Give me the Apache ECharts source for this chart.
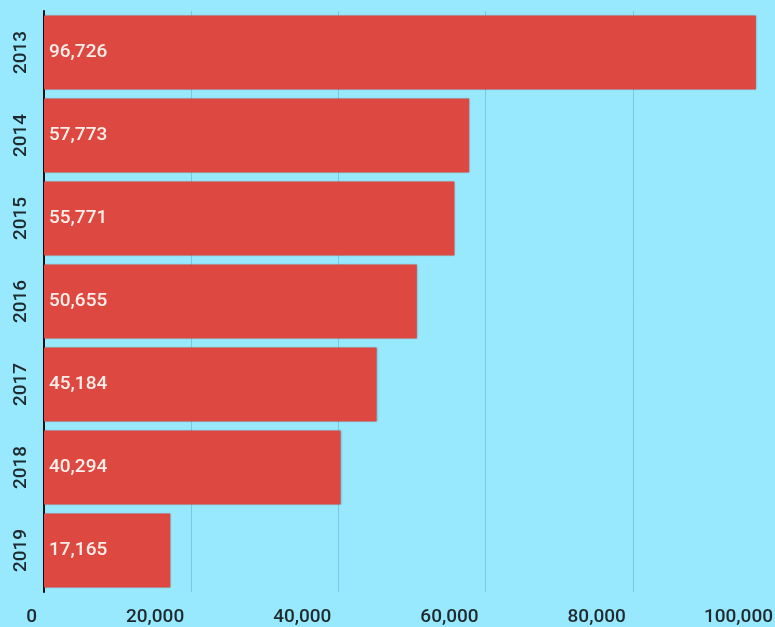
<!DOCTYPE html>
<html><head><meta charset="utf-8">
<script src="https://cdn.jsdelivr.net/npm/echarts@6/dist/echarts.min.js"></script>
<style>html,body{margin:0;padding:0;background:#98e8fe;}#c{width:775px;height:627px;}</style>
</head><body><div id="c"></div>
<script>
const categories = ['2013','2014','2015','2016','2017','2018','2019'];
const values = [96726, 57773, 55771, 50655, 45184, 40294, 17165];
const xTicks = [0, 20000, 40000, 60000, 80000, 100000];

const chart = echarts.init(document.getElementById('c'), null, {renderer:'canvas'});
chart.setOption({
  backgroundColor: '#98e8fe',
  animation: false,
  textStyle: {fontFamily: 'Roboto'},
  grid: {left: 44, width: 736, top: 11, bottom: 35, containLabel: false, outerBoundsMode: 'none'},
  xAxis: {
    type: 'value', min: xTicks[0], max: xTicks[xTicks.length-1], interval: 20000,
    axisLine: {show: false}, axisTick: {show: false},
    splitLine: {show: true, lineStyle: {color: '#78c9e0', width: 1}},
    axisLabel: {
      color: '#1e2a2e', fontSize: 19, fontWeight: 500, fontFamily: 'Roboto',
      align: 'right', padding: [0, 7, 0, 0], margin: 16,
      formatter: v => v.toLocaleString('en-US')
    }
  },
  yAxis: {
    type: 'category', data: categories, inverse: true,
    axisLine: {show: true, lineStyle: {color: '#111', width: 2}},
    axisTick: {show: false},
    axisLabel: {color: '#1e2a2e', fontSize: 19, fontWeight: 500, fontFamily: 'Roboto', rotate: 90, margin: 13}
  },
  series: [{
    type: 'bar', data: values, barCategoryGap: '11%',
    itemStyle: {color: '#dd4841', shadowBlur: 2, shadowColor: 'rgba(0,0,0,0.35)'},
    label: {
      show: true, position: 'insideLeft', distance: 5, color: '#fdeeea',
      fontSize: 19, fontWeight: 500, fontFamily: 'Roboto',
      formatter: p => p.value.toLocaleString('en-US')
    }
  }]
});
</script></body></html>
